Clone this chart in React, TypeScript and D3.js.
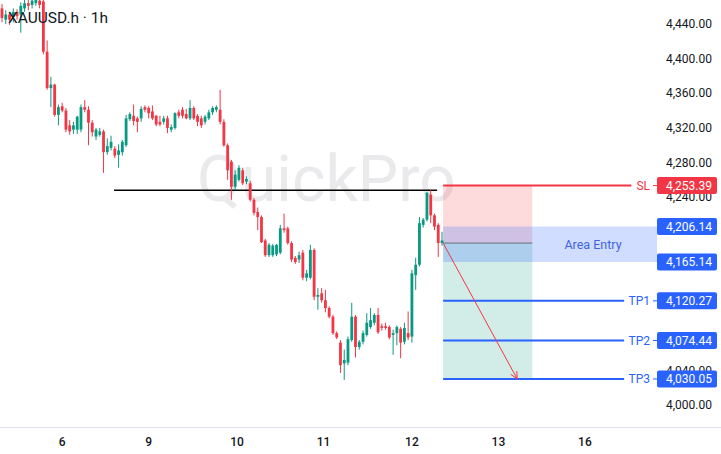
import React from 'react';
import * as d3 from 'd3';

// open, high, low, close (hourly candles, XAUUSD.h)
const candles: [number, number, number, number][] = [
  [4458, 4463, 4442, 4447], [4445, 4456, 4440, 4451], [4451, 4454, 4439, 4445], [4448, 4458, 4442, 4454],
  [4454, 4457, 4445, 4449], [4451, 4465, 4430, 4461], [4458, 4472, 4454, 4464], [4464, 4472, 4456, 4461],
  [4462, 4474, 4458, 4467], [4464, 4476, 4461, 4470], [4467, 4474, 4458, 4462], [4466, 4470, 4405, 4408],
  [4408, 4421, 4364, 4366], [4366, 4379, 4344, 4370], [4370, 4371, 4333, 4335], [4335, 4347, 4323, 4344],
  [4345, 4349, 4338, 4340], [4340, 4343, 4315, 4318], [4323, 4329, 4312, 4316], [4318, 4327, 4313, 4323],
  [4318, 4334, 4313, 4333], [4318, 4347, 4315, 4344], [4344, 4352, 4338, 4341], [4341, 4345, 4300, 4326],
  [4326, 4329, 4310, 4315], [4310, 4320, 4306, 4318], [4312, 4320, 4310, 4316], [4316, 4318, 4268, 4292],
  [4292, 4308, 4289, 4299], [4297, 4311, 4294, 4304], [4296, 4299, 4285, 4288], [4289, 4301, 4274, 4294],
  [4292, 4306, 4288, 4304], [4300, 4335, 4298, 4331], [4330, 4338, 4328, 4336], [4334, 4347, 4323, 4328],
  [4331, 4333, 4315, 4327], [4331, 4345, 4327, 4342], [4344, 4346, 4338, 4341], [4343, 4345, 4331, 4337],
  [4339, 4346, 4329, 4331], [4334, 4335, 4322, 4324], [4327, 4334, 4322, 4324], [4327, 4334, 4324, 4331],
  [4331, 4334, 4314, 4320], [4318, 4324, 4315, 4321], [4320, 4338, 4318, 4337], [4338, 4341, 4331, 4334],
  [4341, 4344, 4331, 4334], [4336, 4342, 4330, 4331], [4331, 4352, 4329, 4343], [4343, 4345, 4329, 4331],
  [4334, 4336, 4322, 4327], [4331, 4334, 4320, 4323], [4327, 4335, 4324, 4333], [4331, 4341, 4329, 4338],
  [4338, 4345, 4335, 4343], [4341, 4346, 4338, 4344], [4341, 4364, 4324, 4327], [4327, 4330, 4298, 4300],
  [4300, 4302, 4260, 4271], [4281, 4283, 4237, 4252], [4252, 4271, 4248, 4266], [4260, 4277, 4258, 4274],
  [4271, 4274, 4254, 4256], [4258, 4264, 4255, 4261], [4256, 4259, 4235, 4237], [4237, 4239, 4219, 4222],
  [4223, 4228, 4202, 4217], [4217, 4219, 4187, 4188], [4190, 4192, 4171, 4173], [4173, 4187, 4171, 4185],
  [4173, 4186, 4171, 4184], [4174, 4186, 4172, 4185], [4176, 4208, 4174, 4204], [4204, 4221, 4199, 4202],
  [4204, 4206, 4185, 4187], [4187, 4189, 4165, 4168], [4170, 4172, 4163, 4165], [4168, 4177, 4164, 4173],
  [4176, 4179, 4144, 4147], [4147, 4156, 4143, 4152], [4147, 4185, 4145, 4179], [4179, 4181, 4121, 4125],
  [4125, 4135, 4110, 4127], [4129, 4135, 4118, 4121], [4121, 4133, 4107, 4112], [4112, 4114, 4100, 4102],
  [4102, 4104, 4081, 4083], [4083, 4085, 4076, 4078], [4072, 4075, 4037, 4046], [4048, 4064, 4029, 4052],
  [4049, 4079, 4046, 4076], [4075, 4118, 4073, 4102], [4102, 4104, 4055, 4067], [4067, 4075, 4064, 4073],
  [4073, 4086, 4070, 4083], [4081, 4106, 4079, 4095], [4090, 4112, 4088, 4098], [4095, 4106, 4092, 4104],
  [4104, 4112, 4082, 4084], [4091, 4094, 4086, 4089], [4091, 4095, 4087, 4089], [4090, 4092, 4076, 4078],
  [4081, 4087, 4058, 4083], [4083, 4092, 4069, 4090], [4088, 4090, 4054, 4072], [4073, 4095, 4070, 4089],
  [4083, 4108, 4075, 4078], [4079, 4156, 4072, 4152], [4150, 4170, 4133, 4162], [4162, 4217, 4160, 4210],
  [4208, 4216, 4205, 4214], [4214, 4246, 4212, 4245], [4243, 4248, 4210, 4219], [4219, 4221, 4202, 4206],
  [4208, 4210, 4171, 4187], [4187, 4200, 4184, 4190],
];

const dayLabels = ['6', '9', '10', '11', '12', '13', '16'];
const dayBars = [16, 39, 62.5, 85.5, 109, 132, 155];
const priceTicks = [4000, 4040, 4080, 4120, 4160, 4200, 4240, 4280, 4320, 4360, 4400, 4440];

const levelNames = ['SL', 'TP1', 'TP2', 'TP3'];
const levelPrices = [4253.39, 4120.27, 4074.44, 4030.05];
const entryZone = [4206.14, 4165.14];
const entryPrice = 4187;
const resistancePrice = 4248;
const resistanceBars = [29.8, 115.7];
const positionBars = [117.3, 141];
const arrowBars = [117.3, 137];
const arrowPrices = [4187, 4030.05];

const UP = '#089981';
const DOWN = '#f23645';
const BLUE = '#2962ff';
const FONT = 'Roboto, "Noto Sans", sans-serif';

const fmt = d3.format(',.2f');

export default function App() {
  const W = 721;
  const H = 454;
  const x = d3.scaleLinear().domain([0, candles.length - 1]).range([2, 442]);
  const y = d3.scaleLinear().domain([4000, 4440]).range([405, 24]);
  const bw = 2.8;
  const badgeX = 657;
  const badgeW = 60;
  const badgeH = 17;
  const labelRight = 650;

  const badgePrices = [...levelPrices, ...entryZone];
  // axis labels that sit entirely under a price badge are not visible
  const visibleTicks = priceTicks.filter(
    (p) => !badgePrices.some((b) => Math.abs(y(p) - y(b)) < 5.5)
  );

  const ax1 = x(arrowBars[0]);
  const ay1 = y(arrowPrices[0]);
  const ax2 = x(arrowBars[1]);
  const ay2 = y(arrowPrices[1]);
  const ang = Math.atan2(ay2 - ay1, ax2 - ax1);
  const head = 8;
  const a1 = ang + Math.PI - 0.45;
  const a2 = ang + Math.PI + 0.45;
  const arrowHead = `M${ax2 + head * Math.cos(a1)},${ay2 + head * Math.sin(a1)}L${ax2},${ay2}L${ax2 + head * Math.cos(a2)},${ay2 + head * Math.sin(a2)}`;

  const px0 = x(positionBars[0]);
  const px1 = x(positionBars[1]);

  return (
    <svg
      width={W}
      height={H}
      style={{ position: 'absolute', left: 0, top: 0, background: '#fff' }}
      fontFamily={FONT}
    >
      <rect x={0} y={0} width={W} height={H} fill="#ffffff" />
      {/* watermark */}
      <text x={197} y={201} fontSize={64} fill="#eaeaec" fontFamily={FONT}>QuickPro</text>

      {/* price axis labels */}
      {visibleTicks.map((p) => (
        <text key={p} x={712} y={y(p)} dy="0.35em" textAnchor="end" fontSize={12} fill="#131722">
          {fmt(p)}
        </text>
      ))}

      {/* position zones */}
      <rect x={px0} y={y(levelPrices[0])} width={px1 - px0} height={y(entryPrice) - y(levelPrices[0])} fill="rgba(242,54,69,0.18)" />
      <rect x={px0} y={y(entryPrice)} width={px1 - px0} height={y(levelPrices[3]) - y(entryPrice)} fill="rgba(8,153,129,0.18)" />
      {/* entry area band */}
      <rect x={px0} y={y(entryZone[0])} width={badgeX - px0} height={y(entryZone[1]) - y(entryZone[0])} fill="rgba(41,98,255,0.22)" />
      <text x={593} y={(y(entryZone[0]) + y(entryZone[1])) / 2} dy="0.35em" textAnchor="middle" fontSize={12.5} fill="#3f64e0">
        Area Entry
      </text>
      <line x1={px0} x2={px1} y1={y(entryPrice)} y2={y(entryPrice)} stroke="#6a6d78" strokeWidth={1} />

      {/* resistance line */}
      <line x1={x(resistanceBars[0])} x2={x(resistanceBars[1])} y1={y(resistancePrice)} y2={y(resistancePrice)} stroke="#000" strokeWidth={1.3} />

      {/* candles */}
      {candles.map(([o, h, l, c], i) => {
        const col = c >= o ? UP : DOWN;
        const cx = x(i);
        const top = y(Math.max(o, c));
        const bot = y(Math.min(o, c));
        return (
          <g key={i}>
            <line x1={cx} x2={cx} y1={y(h)} y2={y(l)} stroke={col} strokeWidth={1} />
            <rect x={cx - bw / 2} y={top} width={bw} height={Math.max(1, bot - top)} fill={col} />
          </g>
        );
      })}

      {/* level lines */}
      {levelNames.map((name, i) => {
        const col = i === 0 ? DOWN : BLUE;
        const yy = y(levelPrices[i]);
        const tw = name.length * 7.3;
        return (
          <g key={name}>
            <line x1={px0} x2={labelRight - tw - 4} y1={yy} y2={yy} stroke={col} strokeWidth={2} />
            <text x={labelRight} y={yy} dy="0.35em" textAnchor="end" fontSize={12} fill={col}>{name}</text>
            <line x1={labelRight + 3} x2={badgeX} y1={yy} y2={yy} stroke={col} strokeWidth={1} />
          </g>
        );
      })}

      {/* arrow */}
      <line x1={ax1} y1={ay1} x2={ax2} y2={ay2} stroke={DOWN} strokeWidth={1} />
      <path d={arrowHead} fill="none" stroke={DOWN} strokeWidth={1} />

      {/* badges */}
      {levelPrices.map((p, i) => (
        <g key={'b' + i}>
          <rect x={badgeX} y={y(p) - badgeH / 2} width={badgeW} height={badgeH} rx={2} fill={i === 0 ? DOWN : BLUE} />
          <text x={712} y={y(p)} dy="0.35em" textAnchor="end" fontSize={12} fill="#fff">{fmt(p)}</text>
        </g>
      ))}
      {entryZone.map((p, i) => (
        <g key={'z' + i}>
          <rect x={badgeX} y={y(p) - badgeH / 2} width={badgeW} height={badgeH} rx={2} fill={BLUE} />
          <text x={712} y={y(p)} dy="0.35em" textAnchor="end" fontSize={12} fill="#fff">{fmt(p)}</text>
        </g>
      ))}

      {/* title */}
      <text x={8} y={23} fontSize={15.5} fill="#131722">XAUUSD.h · 1h</text>

      {/* time axis */}
      <line x1={0} x2={W} y1={427.5} y2={427.5} stroke="#e0e3eb" strokeWidth={1} />
      {dayLabels.map((d, i) => (
        <text key={d} x={x(dayBars[i])} y={442} dy="0.35em" textAnchor="middle" fontSize={12} fontWeight={500} fill="#131722">
          {d}
        </text>
      ))}
    </svg>
  );
}
